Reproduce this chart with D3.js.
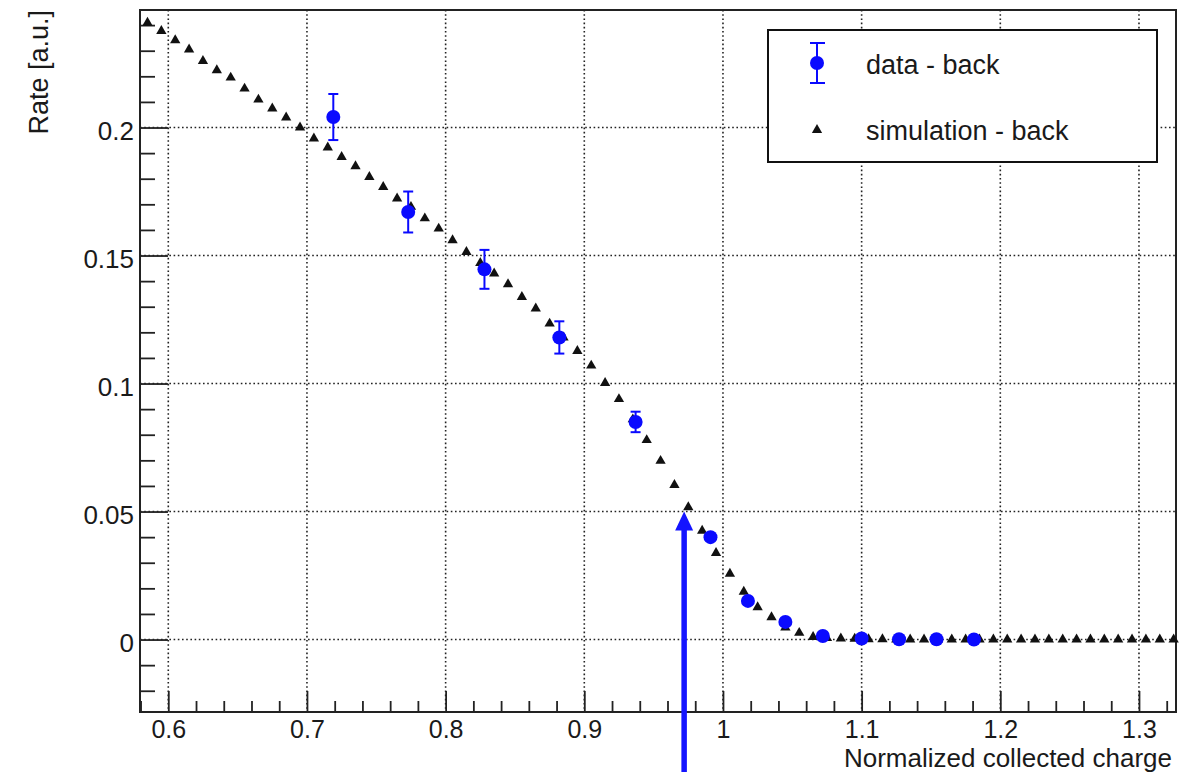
<!DOCTYPE html>
<html>
<head>
<meta charset="utf-8">
<script src="https://cdn.jsdelivr.net/npm/d3@7"></script>
<style>
  body { margin: 0; background: #fff; }
  text { font-family: "Liberation Sans", Arial, sans-serif; fill: #1a1a1a; }
</style>
</head>
<body>
<svg id="chart"></svg>
<script>
// simulation - back (bin centres, 0.01 wide)
const simX = [0.585, 0.595, 0.605, 0.615, 0.625, 0.635, 0.645, 0.655, 0.665, 0.675,
  0.685, 0.695, 0.705, 0.715, 0.725, 0.735, 0.745, 0.755, 0.765, 0.775,
  0.785, 0.795, 0.805, 0.815, 0.825, 0.835, 0.845, 0.855, 0.865, 0.875,
  0.885, 0.895, 0.905, 0.915, 0.925, 0.935, 0.945, 0.955, 0.965, 0.975,
  0.985, 0.995, 1.005, 1.015, 1.025, 1.035, 1.045, 1.055, 1.065, 1.075,
  1.085, 1.095, 1.105, 1.115, 1.125, 1.135, 1.145, 1.155, 1.165, 1.175,
  1.185, 1.195, 1.205, 1.215, 1.225, 1.235, 1.245, 1.255, 1.265, 1.275,
  1.285, 1.295, 1.305, 1.315, 1.325];
const simY = [0.2409, 0.2377, 0.2341, 0.2305, 0.2260, 0.2224, 0.2195, 0.2152, 0.2109, 0.2074,
  0.2039, 0.2000, 0.1957, 0.1922, 0.1885, 0.1849, 0.1807, 0.1768, 0.1723, 0.1690,
  0.1645, 0.1605, 0.1560, 0.1514, 0.1471, 0.1430, 0.1388, 0.1338, 0.1293, 0.1234,
  0.1180, 0.1127, 0.1070, 0.1002, 0.0939, 0.0860, 0.0779, 0.0698, 0.0604, 0.0517,
  0.0425, 0.0338, 0.0257, 0.0187, 0.0126, 0.0087, 0.0047, 0.0026, 0.0010, 0.0006,
  0.0004, 0.0003, 0.0001, 0.0001, 0, 0, 0, 0, 0, 0,
  0, 0, 0, 0, 0, 0, 0, 0, 0, 0,
  0, 0, 0, 0, 0];

// data - back
const dataX = [0.719, 0.773, 0.828, 0.882, 0.937, 0.991, 1.018, 1.045, 1.072, 1.100, 1.127, 1.154, 1.181];
const dataY = [0.2041, 0.1670, 0.1446, 0.1180, 0.0850, 0.0400, 0.0151, 0.0069, 0.0014, 0.0004, 0.0001, 0.0001, 0.0000];
const dataErr = [0.0090, 0.0080, 0.0076, 0.0063, 0.0040, 0.0022, 0.0015, 0.0010, 0.0006, 0.0004, 0.0003, 0.0003, 0.0002];

const xMajor = [0.6, 0.7, 0.8, 0.9, 1.0, 1.1, 1.2, 1.3];
const yMajor = [0, 0.05, 0.1, 0.15, 0.2];
const arrowX = 0.972;
const arrowTipY = 0.05;

const width = 1195, height = 772;
const fL = 140, fR = 1176, fT = 10, fB = 712;

const svg = d3.select("#chart").attr("width", width).attr("height", height);

const x = d3.scaleLinear().domain([0.5796, 1.3267]).range([fL, fR]);
const y = d3.scaleLinear().domain([-0.0283, 0.2459]).range([fB, fT]);

const fmt = function (d) { return String(+d.toFixed(2)); };

// grid (dotted)
const grid = svg.append("g").attr("stroke", "#222").attr("stroke-width", 1.6).attr("stroke-dasharray", "1.6,2.6");
grid.selectAll(".gx").data(xMajor).enter().append("line")
  .attr("x1", function (d) { return x(d); }).attr("x2", function (d) { return x(d); })
  .attr("y1", fT).attr("y2", fB);
grid.selectAll(".gy").data(yMajor).enter().append("line")
  .attr("y1", function (d) { return y(d); }).attr("y2", function (d) { return y(d); })
  .attr("x1", fL).attr("x2", fR);

// axes: major + minor ticks, ROOT style (ticks inside the frame)
const xMinor = d3.range(0.58, 1.3267, 0.02).filter(function (v) {
  return !xMajor.some(function (m) { return Math.abs(m - v) < 1e-6; });
});
const yMinor = d3.range(-0.02, 0.2459, 0.01).filter(function (v) {
  return !yMajor.some(function (m) { return Math.abs(m - v) < 1e-6; });
});

const xAxisMajor = d3.axisBottom(x).tickValues(xMajor).tickSize(-21).tickFormat(fmt);
const xAxisMinor = d3.axisBottom(x).tickValues(xMinor).tickSize(-11).tickFormat("");
const yAxisMajor = d3.axisLeft(y).tickValues(yMajor).tickSize(-28).tickFormat(fmt);
const yAxisMinor = d3.axisLeft(y).tickValues(yMinor).tickSize(-15).tickFormat("");

function styleAxis(g) {
  g.select(".domain").remove();
  g.selectAll(".tick line").attr("stroke", "#222").attr("stroke-width", 1.8);
  g.selectAll(".tick text").attr("font-size", 26).attr("fill", "#1a1a1a")
    .attr("font-family", "'Liberation Sans', Arial, sans-serif");
}

svg.append("g").attr("transform", "translate(0," + fB + ")").call(xAxisMinor).call(styleAxis);
svg.append("g").attr("transform", "translate(0," + fB + ")").call(xAxisMajor).call(styleAxis)
  .selectAll(".tick text").attr("dy", 0).attr("y", 26).attr("font-size", 25);
svg.append("g").attr("transform", "translate(" + fL + ",0)").call(yAxisMinor).call(styleAxis);
svg.append("g").attr("transform", "translate(" + fL + ",0)").call(yAxisMajor).call(styleAxis)
  .selectAll(".tick text").attr("x", -6).attr("dy", "0.45em");

// frame
svg.append("rect")
  .attr("x", fL).attr("y", fT).attr("width", fR - fL).attr("height", fB - fT)
  .attr("fill", "none").attr("stroke", "#222").attr("stroke-width", 2);

// axis titles
svg.append("text")
  .attr("x", 1172).attr("y", 766.5)
  .attr("text-anchor", "end").attr("font-size", 26)
  .text("Normalized collected charge");
svg.append("text")
  .attr("transform", "translate(48," + 10 + ") rotate(-90)")
  .attr("text-anchor", "end").attr("font-size", 27)
  .text("Rate [a.u.]");

// simulation triangles
const tri = d3.symbol().type(d3.symbolTriangle).size(46);
svg.append("g").selectAll("path").data(simX).enter().append("path")
  .attr("d", tri)
  .attr("fill", "#111")
  .attr("transform", function (d, i) { return "translate(" + x(d) + "," + y(simY[i]) + ")"; });

// data points with error bars
const r = 7;
const pts = svg.append("g");
dataX.forEach(function (d, i) {
  const cx = x(d), cy = y(dataY[i]);
  const y1 = y(dataY[i] + dataErr[i]), y2 = y(dataY[i] - dataErr[i]);
  if (cy - y1 > r) {
    pts.append("line").attr("x1", cx).attr("x2", cx).attr("y1", y1).attr("y2", y2)
      .attr("stroke", "#0a0aff").attr("stroke-width", 2);
    [y1, y2].forEach(function (yy) {
      pts.append("line").attr("x1", cx - 5).attr("x2", cx + 5).attr("y1", yy).attr("y2", yy)
        .attr("stroke", "#0a0aff").attr("stroke-width", 2);
    });
  }
  pts.append("circle").attr("cx", cx).attr("cy", cy).attr("r", r).attr("fill", "#0a0aff");
});

// legend
const lg = svg.append("g");
lg.append("rect").attr("x", 768).attr("y", 30).attr("width", 389).attr("height", 132)
  .attr("fill", "#fff").attr("stroke", "#111").attr("stroke-width", 2);
lg.append("line").attr("x1", 817).attr("x2", 817).attr("y1", 43).attr("y2", 83)
  .attr("stroke", "#0a0aff").attr("stroke-width", 2);
[43, 83].forEach(function (yy) {
  lg.append("line").attr("x1", 810).attr("x2", 825).attr("y1", yy).attr("y2", yy)
    .attr("stroke", "#0a0aff").attr("stroke-width", 2);
});
lg.append("circle").attr("cx", 817).attr("cy", 63).attr("r", r).attr("fill", "#0a0aff");
lg.append("path").attr("d", tri).attr("fill", "#111").attr("transform", "translate(817,130)");
lg.append("text").attr("x", 866).attr("y", 74).attr("font-size", 27).text("data - back");
lg.append("text").attr("x", 866).attr("y", 140).attr("font-size", 27).text("simulation - back");

// arrow marking the threshold
const ax = x(arrowX), tipY = y(arrowTipY);
svg.append("line").attr("x1", ax).attr("x2", ax).attr("y1", tipY + 16).attr("y2", height)
  .attr("stroke", "#1414ff").attr("stroke-width", 5.5);
svg.append("path")
  .attr("d", "M" + ax + "," + tipY + "L" + (ax + 9) + "," + (tipY + 19) + "L" + (ax - 9) + "," + (tipY + 19) + "Z")
  .attr("fill", "#1414ff");
</script>
</body>
</html>
